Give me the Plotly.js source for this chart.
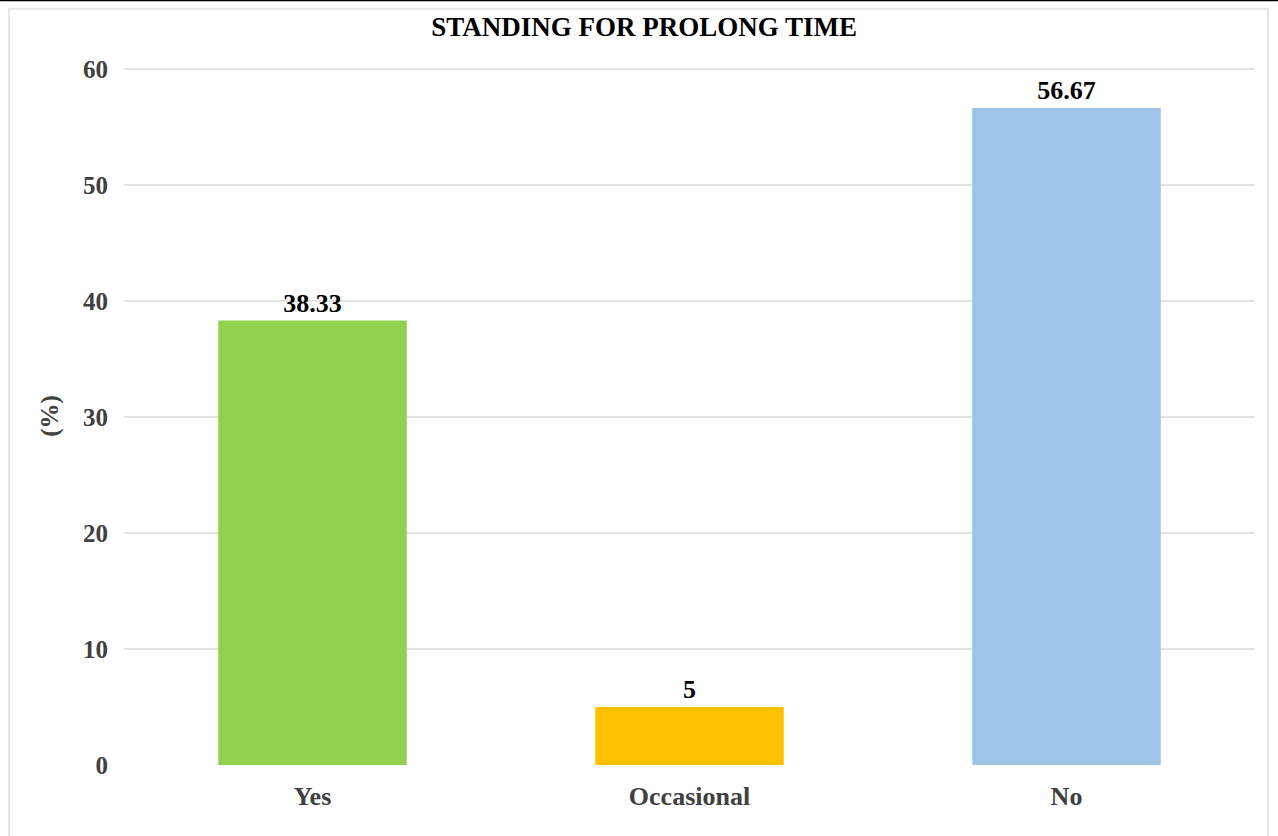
<!DOCTYPE html>
<html>
<head>
<meta charset="utf-8">
<script src="https://cdn.plot.ly/plotly-3.0.1.min.js"></script>
<style>html,body{margin:0;padding:0;background:#fff;}#chart{width:1278px;height:836px;}</style>
</head>
<body>
<div id="chart"></div>
<script>
const categories = ["Yes", "Occasional", "No"];
const values = [38.33, 5, 56.67];
const labels = ["38.33", "5", "56.67"];
const colors = ["#92D050", "#FFC000", "#9DC3E6"];
const yTicks = [0, 10, 20, 30, 40, 50, 60];

const trace = {
  type: "bar",
  x: categories,
  y: values,
  text: labels,
  textposition: "outside",
  texttemplate: "%{text}",
  cliponaxis: false,
  textfont: {family: "Liberation Serif, serif", size: 26, color: "#000", weight: "bold"},
  marker: {color: colors},
  width: 0.5,
  hoverinfo: "skip"
};

const layout = {
  width: 1278, height: 836,
  margin: {l: 124, r: 23, t: 67, b: 71},
  paper_bgcolor: "#fff", plot_bgcolor: "#fff",
  showlegend: false,
  title: {text: "<b>STANDING FOR PROLONG TIME</b>", x: 0.504, xanchor: "center", y: 0.968, yanchor: "middle",
          font: {family: "Liberation Serif, serif", size: 27, color: "#000"}},
  xaxis: {
    type: "category", range: [-0.5, 2.5], showgrid: false, showline: false, zeroline: false, ticks: "",
    tickfont: {family: "Liberation Serif, serif", size: 26, color: "#404040", weight: "bold"},
    ticklabelstandoff: 13
  },
  yaxis: {
    range: [0, 60.2], tickvals: yTicks, ticktext: yTicks.map(String),
    showgrid: true, gridcolor: "#e3e3e3", gridwidth: 2, zeroline: false, showline: false, ticks: "",
    tickfont: {family: "Liberation Serif, serif", size: 25, color: "#404040", weight: "bold"},
    ticklabelstandoff: 15,
    title: {text: "<b>(%)</b>", standoff: 17, font: {family: "Liberation Serif, serif", size: 25, color: "#404040"}}
  },
  shapes: [
    {type: "rect", xref: "paper", yref: "paper", x0: -0.1017, x1: 1.0115, y0: -0.2, y1: 1.0836,
     line: {color: "#e6e6e6", width: 2}, layer: "below"},
    {type: "line", xref: "paper", yref: "paper", x0: -0.2, x1: 1.1, y0: 1.0957, y1: 1.0957,
     line: {color: "#000", width: 2}}
  ]
};

Plotly.newPlot("chart", [trace], layout, {displayModeBar: false, staticPlot: true});
</script>
</body>
</html>
